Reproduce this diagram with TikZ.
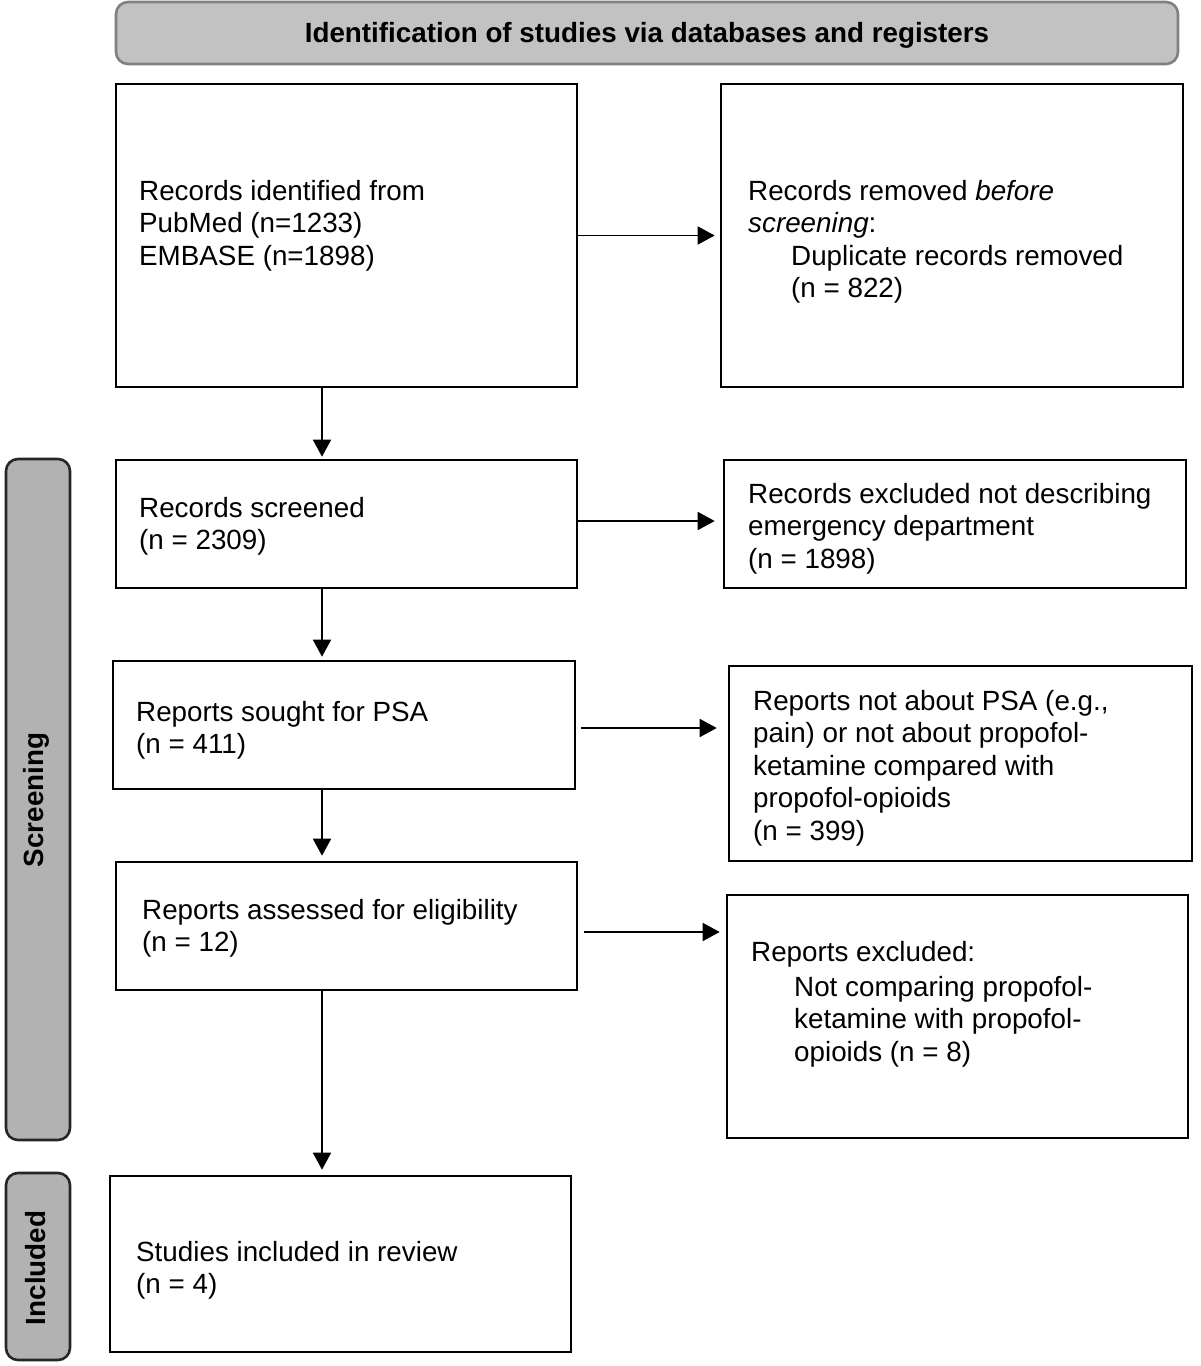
\documentclass[tikz,border=0pt]{standalone}
\usepackage{fontspec}
\setmainfont{Liberation Sans}
\usetikzlibrary{arrows.meta}
\begin{document}
\begin{tikzpicture}[x=1pt,y=-1pt,
  box/.style={draw=black,line width=2.6pt,inner sep=0pt,fill=white},
  txt/.style={anchor=north west,align=left,inner sep=0pt,font=\fontsize{27.8}{32.5}\selectfont},
  arr/.style={line width=1.8pt,-{Triangle[length=17pt,width=18pt]}},
  side/.style={draw=black!85,line width=2.6pt,rounded corners=12pt,fill=black!30,inner sep=0pt},
  headbox/.style={draw=black!50,line width=2.6pt,rounded corners=12pt,fill=black!24,inner sep=0pt},
  lbl/.style={font=\fontsize{27.8}{32}\selectfont\bfseries,inner sep=0pt},
]
\useasboundingbox (0,0) rectangle (1200,1366);
\fill[white] (0,0) rectangle (1200,1366);

% header and side bars
\node[headbox,minimum width=1062pt,minimum height=62pt] (head) at (647,33) {};
\node[lbl] (headtxt) at (647,35) {Identification of studies via databases and registers};
\node[side,minimum width=64pt,minimum height=681pt] (scr) at (38,799.5) {};
\node[lbl,rotate=90] (scrtxt) at (36,800) {Screening};
\node[side,minimum width=64pt,minimum height=187pt] (inc) at (38,1266.5) {};
\node[lbl,rotate=90] (inctxt) at (36,1268) {Included};

% boxes
\node[box,minimum width=461pt,minimum height=303pt] (b1) at (346.5,235.5) {};
\node[box,minimum width=462pt,minimum height=303pt] (b2) at (952,235.5) {};
\node[box,minimum width=461pt,minimum height=128pt] (b3) at (346.5,524) {};
\node[box,minimum width=462pt,minimum height=128pt] (b4) at (955,524) {};
\node[box,minimum width=462pt,minimum height=128pt] (b5) at (344,725) {};
\node[box,minimum width=463pt,minimum height=195pt] (b6) at (960.5,763.5) {};
\node[box,minimum width=461pt,minimum height=128pt] (b7) at (346.5,926) {};
\node[box,minimum width=461pt,minimum height=243pt] (b8) at (957.5,1016.5) {};
\node[box,minimum width=461pt,minimum height=176pt] (b9) at (340.5,1264) {};

% texts
\node[txt] (t1) at (139,180) {Records identified from\\PubMed (n=1233)\\EMBASE (n=1898)};
\node[txt] (t2) at (748,180) {Records removed \textit{before}\\\textit{screening}:};
\node[txt] (t2b) at (791,245) {Duplicate records removed\\(n = 822)};
\node[txt] (t3) at (139,497) {Records screened\\(n = 2309)};
\node[txt] (t4) at (748,483) {Records excluded not describing\\emergency department\\(n = 1898)};
\node[txt] (t5) at (136,701) {Reports sought for PSA\\(n = 411)};
\node[txt] (t6) at (753,690) {Reports not about PSA (e.g.,\\pain) or not about propofol-\\ketamine compared with\\propofol-opioids\\(n = 399)};
\node[txt] (t7) at (142,899) {Reports assessed for eligibility\\(n = 12)};
\node[txt] (t8) at (751,941) {Reports excluded:};
\node[txt] (t8b) at (794,976) {Not comparing propofol-\\ketamine with propofol-\\opioids (n = 8)};
\node[txt] (t9) at (136,1241) {Studies included in review\\(n = 4)};

% horizontal arrows
\draw[arr,shorten >=5pt] (b1.east) -- (b1.east -| b2.west);
\draw[arr,shorten >=8pt] ([yshift=3pt]b3.east) -- ([yshift=3pt]b3.east -| b4.west);
\draw[arr,shorten <=5pt,shorten >=11pt] ([yshift=-3pt]b5.east) -- ([yshift=-3pt]b5.east -| b6.west);
\draw[arr,shorten <=6pt,shorten >=6pt] ([yshift=-6pt]b7.east) -- ([yshift=-6pt]b7.east -| b8.west);

% vertical arrows
\draw[arr,shorten >=2pt] ([xshift=-24.5pt]b1.south) -- ([xshift=-24.5pt]b1.south |- b3.north);
\draw[arr,shorten >=3pt] ([xshift=-24.5pt]b3.south) -- ([xshift=-24.5pt]b3.south |- b5.north);
\draw[arr,shorten >=5pt] ([xshift=-22pt]b5.south) -- ([xshift=-22pt]b5.south |- b7.north);
\draw[arr,shorten >=5pt] ([xshift=-24.5pt]b7.south) -- ([xshift=-24.5pt]b7.south |- b9.north);
\end{tikzpicture}
\end{document}
